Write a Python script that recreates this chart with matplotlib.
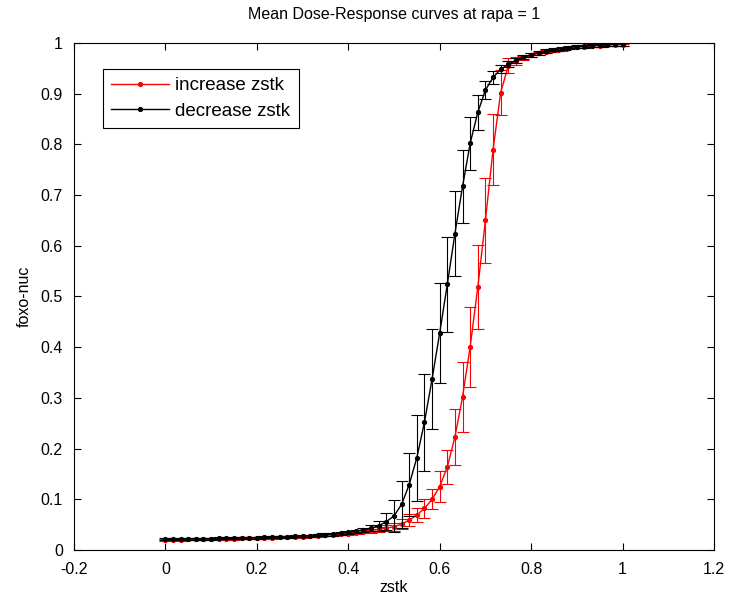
import numpy as np
import matplotlib
matplotlib.use("Agg")
import matplotlib.pyplot as plt
from matplotlib.ticker import FormatStrFormatter

plt.rcParams['font.family'] = ['Liberation Sans', 'DejaVu Sans']
plt.rcParams['font.size'] = 11.5

# zstk grid (61 doses from 0 to 1)
zstk = np.linspace(0, 1, 61)

inc_mean = [0.020, 0.020, 0.020, 0.021, 0.021, 0.021, 0.021, 0.022, 0.022, 0.022,
            0.023, 0.023, 0.023, 0.024, 0.024, 0.025, 0.025, 0.026, 0.026, 0.027,
            0.028, 0.029, 0.030, 0.031, 0.032, 0.034, 0.036, 0.038, 0.041, 0.043,
            0.046, 0.051, 0.059, 0.069, 0.082, 0.100, 0.125, 0.164, 0.223, 0.302,
            0.401, 0.518, 0.650, 0.789, 0.902, 0.955, 0.965, 0.971, 0.976, 0.980,
            0.983, 0.986, 0.988, 0.990, 0.992, 0.993, 0.994, 0.995, 0.996, 0.997,
            0.997]
inc_err = [0.002, 0.002, 0.002, 0.002, 0.002, 0.002, 0.002, 0.002, 0.002, 0.002,
           0.002, 0.002, 0.002, 0.002, 0.002, 0.002, 0.002, 0.002, 0.002, 0.002,
           0.002, 0.002, 0.002, 0.002, 0.002, 0.002, 0.003, 0.004, 0.005, 0.006,
           0.008, 0.010, 0.012, 0.013, 0.018, 0.020, 0.030, 0.033, 0.055, 0.069,
           0.079, 0.083, 0.083, 0.070, 0.045, 0.015, 0.008, 0.004, 0.004, 0.003,
           0.003, 0.003, 0.003, 0.002, 0.002, 0.002, 0.002, 0.002, 0.002, 0.002,
           0.002]

dec_mean = [0.021, 0.021, 0.021, 0.022, 0.022, 0.022, 0.022, 0.023, 0.023, 0.023,
            0.024, 0.024, 0.024, 0.025, 0.025, 0.026, 0.026, 0.027, 0.028, 0.028,
            0.029, 0.030, 0.031, 0.033, 0.035, 0.037, 0.040, 0.043, 0.048, 0.056,
            0.067, 0.090, 0.129, 0.182, 0.252, 0.337, 0.428, 0.524, 0.624, 0.717,
            0.802, 0.863, 0.907, 0.932, 0.948, 0.958, 0.966, 0.972, 0.977, 0.981,
            0.984, 0.987, 0.989, 0.991, 0.993, 0.994, 0.995, 0.996, 0.997, 0.998,
            0.998]
dec_err = [0.002, 0.002, 0.002, 0.002, 0.002, 0.002, 0.002, 0.002, 0.002, 0.002,
           0.002, 0.002, 0.002, 0.002, 0.002, 0.002, 0.002, 0.002, 0.002, 0.002,
           0.002, 0.003, 0.003, 0.003, 0.003, 0.003, 0.004, 0.006, 0.010, 0.017,
           0.032, 0.046, 0.062, 0.085, 0.096, 0.099, 0.098, 0.094, 0.084, 0.072,
           0.053, 0.034, 0.018, 0.012, 0.008, 0.006, 0.005, 0.004, 0.004, 0.004,
           0.004, 0.003, 0.003, 0.003, 0.003, 0.003, 0.003, 0.003, 0.003, 0.003,
           0.003]

fig = plt.figure(figsize=(7.31, 6.03), dpi=100)
ax = fig.add_axes([0.1012, 0.0879, 0.8755, 0.8408])

# increase zstk (red)
ax.errorbar(zstk, inc_mean, yerr=inc_err, fmt='none', ecolor='#ff0000',
            elinewidth=0.8, capsize=4.5, capthick=0.8)
ax.plot(zstk, inc_mean, '-', color='#ff0000', marker='.', markersize=5.5,
        linewidth=1, label='increase zstk')

# decrease zstk (black)
ax.errorbar(zstk, dec_mean, yerr=dec_err, fmt='none', ecolor='black',
            elinewidth=0.8, capsize=4.5, capthick=0.8)
ax.plot(zstk, dec_mean, '-', color='black', marker='.', markersize=5.5,
        linewidth=1, label='decrease zstk')

ax.set_xlim(-0.2, 1.2)
ax.set_ylim(0, 1)
ax.set_xticks(np.arange(-0.2, 1.21, 0.2))
ax.set_yticks(np.arange(0, 1.01, 0.1))
ax.xaxis.set_major_formatter(FormatStrFormatter('%g'))
ax.yaxis.set_major_formatter(FormatStrFormatter('%g'))
ax.tick_params(direction='in', top=True, right=True, length=5, width=0.8, labelsize=11.5)
ax.tick_params(axis='x', pad=9)
ax.tick_params(axis='y', pad=8)
for s in ax.spines.values():
    s.set_linewidth(0.8)

ax.set_title('Mean Dose-Response curves at rapa = 1', fontsize=11.5, pad=17)
ax.set_xlabel('zstk', fontsize=11.5, labelpad=2)
ax.set_ylabel('foxo-nuc', fontsize=11.5, labelpad=6)

leg = ax.legend(loc='upper left', bbox_to_anchor=(0.045, 0.949), borderaxespad=0,
                fancybox=False, edgecolor='black', framealpha=1, handlelength=3.1,
                handletextpad=0.3, borderpad=0.45, labelspacing=0.45, fontsize=13.5)
leg.get_frame().set_linewidth(0.8)

fig.savefig('out.png', dpi=100)
